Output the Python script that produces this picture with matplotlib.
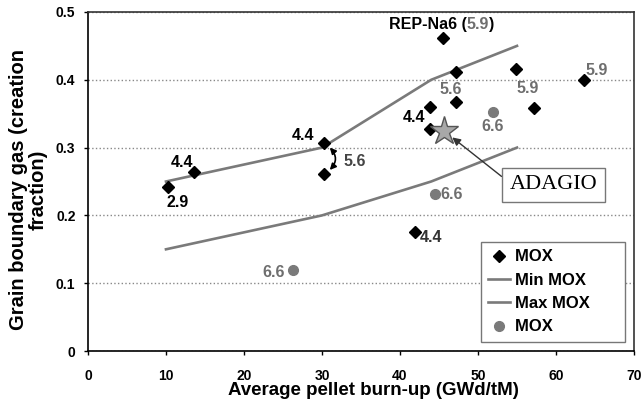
import matplotlib
matplotlib.use("Agg")
import matplotlib.pyplot as plt

plt.rcParams['font.family'] = ['Liberation Sans', 'DejaVu Sans']
plt.rcParams['font.weight'] = 'bold'

# black diamonds (MOX)
mox_x = [10.3, 13.6, 30.3, 30.3, 45.5, 47.2, 54.9, 63.6, 47.2, 43.8, 43.8, 57.2, 41.9]
mox_y = [0.242, 0.264, 0.307, 0.261, 0.461, 0.411, 0.416, 0.400, 0.367, 0.360, 0.328, 0.358, 0.176]
# grey circles (MOX)
grey_x = [26.3, 44.5, 51.9]
grey_y = [0.120, 0.231, 0.353]
# envelope curves
min_x = [10, 30, 44, 55]
min_y = [0.15, 0.20, 0.25, 0.30]
max_x = [10, 30, 44, 55]
max_y = [0.25, 0.30, 0.40, 0.45]
# ADAGIO point
adagio_x, adagio_y = 45.6, 0.324

GREY = '#7a7a7a'
TXT_GREY = '#6e6e6e'
FS = 11.5

fig = plt.figure(figsize=(6.44, 4.05), dpi=100)
ax = fig.add_axes([0.1366, 0.1333, 0.8479, 0.8371])

ax.plot(mox_x, mox_y, 'D', color='black', ms=6.5, ls='none', label='MOX', zorder=4)
ax.plot(min_x, min_y, '-', color=GREY, lw=1.9, label='Min MOX', zorder=3)
ax.plot(max_x, max_y, '-', color=GREY, lw=1.9, label='Max MOX', zorder=3)
ax.plot(grey_x, grey_y, 'o', color=GREY, ms=7, ls='none', label='MOX', zorder=4)
ax.plot([adagio_x], [adagio_y], marker='*', ms=21, color='#a8a8a8',
        mec='#555555', mew=1, ls='none', zorder=5)

# value labels: (text, x, y, offset in points, colour)
labels = [
    ('2.9', mox_x[0], mox_y[0], (7, -11), 'black'),
    ('4.4', mox_x[1], mox_y[1], (-9, 7), 'black'),
    ('4.4', mox_x[2], mox_y[2], (-15, 5), 'black'),
    ('5.6', mox_x[3], mox_y[3], (22, 9), '#444444'),
    ('5.6', mox_x[5], mox_y[5], (-4, -12), TXT_GREY),
    ('5.9', mox_x[6], mox_y[6], (8, -14), TXT_GREY),
    ('5.9', mox_x[7], mox_y[7], (9, 7), TXT_GREY),
    ('4.4', mox_x[10], mox_y[10], (-11, 8), 'black'),
    ('4.4', mox_x[12], mox_y[12], (12, -4), '#333333'),
    ('6.6', grey_x[2], grey_y[2], (0, -11), TXT_GREY),
    ('6.6', grey_x[1], grey_y[1], (12, 0), TXT_GREY),
    ('6.6', grey_x[0], grey_y[0], (-14, -2), TXT_GREY),
]
for t, x, y, off, c in labels:
    ax.annotate(t, (x, y), xytext=off, textcoords='offset points',
                ha='center', va='center', fontsize=FS, color=c, fontweight='bold')

# REP-Na6 (5.9) label, split colours
rep = ax.annotate('REP-Na6 (', (mox_x[4], mox_y[4]), xytext=(17, 10),
                  textcoords='offset points', ha='right', va='center',
                  fontsize=FS, color='black', fontweight='bold')
num = ax.annotate('5.9', xy=(1, 0.5), xycoords=rep, ha='left', va='center',
                  fontsize=FS, color=TXT_GREY, fontweight='bold')
ax.annotate(')', xy=(1, 0.5), xycoords=num, ha='left', va='center',
            fontsize=FS, color='black', fontweight='bold')

# curved double arrow between the two 30 GWd/tM points
ax.annotate('', xy=(31.0, 0.267), xytext=(31.0, 0.300),
            arrowprops=dict(arrowstyle='<|-|>', color='black', lw=1.2,
                            connectionstyle='arc3,rad=-0.45',
                            mutation_scale=9, shrinkA=0, shrinkB=0))

# ADAGIO callout
ax.annotate('ADAGIO', xy=(46.7, 0.315), xytext=(59.7, 0.245),
            ha='center', va='center', fontsize=16, fontweight='normal',
            family=['Liberation Serif', 'DejaVu Serif'],
            bbox=dict(boxstyle='square,pad=0.35', fc='white', ec='#777777', lw=1),
            arrowprops=dict(arrowstyle='-|>', color='#333333', lw=1,
                            mutation_scale=12, relpos=(0, 0.6), shrinkA=0, shrinkB=0))

ax.set_xlim(0, 70)
ax.set_ylim(0, 0.5)
ax.set_xticks(range(0, 71, 10))
ax.set_yticks([0, 0.1, 0.2, 0.3, 0.4, 0.5])
ax.set_yticklabels(['0', '0.1', '0.2', '0.3', '0.4', '0.5'])
ax.tick_params(labelsize=10, length=3, width=1)
ax.tick_params(axis='x', pad=10)
ax.tick_params(axis='y', pad=6)
for lab in ax.get_xticklabels() + ax.get_yticklabels():
    lab.set_fontweight('bold')
ax.yaxis.grid(True, linestyle=':', color='#888888', lw=1)
ax.set_axisbelow(True)
for s in ax.spines.values():
    s.set_linewidth(1.2)
ax.spines['top'].set_color('#333333')
ax.spines['right'].set_color('#333333')

ax.set_xlabel('Average pellet burn-up (GWd/tM)', fontsize=13.5, fontweight='bold')
ax.xaxis.set_label_coords(0.522, -0.092)
ax.set_ylabel('Grain boundary gas (creation\nfraction)', fontsize=14.5,
              fontweight='bold', linespacing=1.05)
ax.yaxis.set_label_coords(-0.074, 0.475)

handles, names = ax.get_legend_handles_labels()
leg = ax.legend(handles, [n + '      ' for n in names],
                loc='lower right', bbox_to_anchor=(0.9835, 0.027), borderaxespad=0,
                fancybox=False, edgecolor='#777777', framealpha=1,
                handlelength=1.3, handletextpad=0.3, labelspacing=0.5,
                borderpad=0.45, prop={'weight': 'bold', 'size': 12})
leg.get_frame().set_linewidth(1)

fig.savefig('out.png', dpi=100)
